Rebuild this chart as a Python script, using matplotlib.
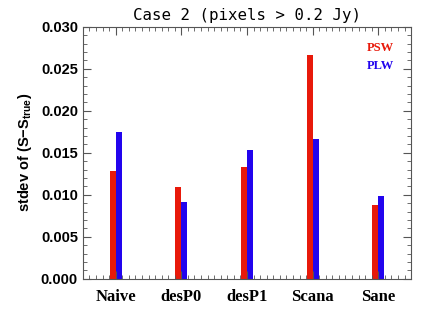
import numpy as np
import matplotlib
matplotlib.use('Agg')
import matplotlib.pyplot as plt
from matplotlib.ticker import MultipleLocator

# 数据
methods = ['Naive', 'desP0', 'desP1', 'Scana', 'Sane']
psw = [0.0128, 0.0109, 0.0133, 0.0267, 0.0088]
plw = [0.0175, 0.0092, 0.0153, 0.0167, 0.0099]

red = '#e8190a'
blue = '#2204ee'

plt.rcParams['mathtext.fontset'] = 'custom'
plt.rcParams['mathtext.rm'] = 'Liberation Sans:bold'
plt.rcParams['mathtext.bf'] = 'Liberation Sans:bold'

fig = plt.figure(figsize=(4.36, 3.32), dpi=100)
ax = fig.add_axes([0.190, 0.160, 0.753, 0.759])

x = np.arange(len(methods))
w = 0.09
ax.bar(x - w / 2, psw, width=w, color=red)
ax.bar(x + w / 2, plw, width=w, color=blue)

ax.set_xlim(-0.5, len(methods) - 0.5)
ax.set_ylim(0, 0.030)

# 刻度
ax.set_xticks(x)
ax.set_xticklabels(methods, fontfamily='Liberation Serif', fontweight='bold', fontsize=12)
ax.xaxis.set_minor_locator(MultipleLocator(0.1))
ax.yaxis.set_major_locator(MultipleLocator(0.005))
ax.yaxis.set_minor_locator(MultipleLocator(0.001))
ax.yaxis.set_major_formatter(matplotlib.ticker.FormatStrFormatter('%.3f'))
for lab in ax.get_yticklabels():
    lab.set_fontfamily('Liberation Sans')
    lab.set_fontweight('bold')
    lab.set_fontsize(10.5)

ax.tick_params(which='both', direction='in', top=True, right=True, color='#555555')
ax.tick_params(which='major', length=6, width=0.8)
ax.tick_params(axis='x', which='major', pad=7)
ax.tick_params(which='minor', length=3, width=0.6)
for s in ax.spines.values():
    s.set_color('#555555')
    s.set_linewidth(0.8)

ax.set_ylabel(r'stdev of (S$-$S$_{\mathbf{true}}$)', fontfamily='Liberation Sans',
              fontweight='bold', fontsize=10.5, labelpad=5)
ax.set_title('Case 2 (pixels > 0.2 Jy)', fontfamily='DejaVu Sans Mono', fontsize=11.3, pad=5)

ax.text(0.905, 0.917, 'PSW', color=red, transform=ax.transAxes, ha='center', va='center',
        fontfamily='Liberation Serif', fontweight='bold', fontsize=9)
ax.text(0.905, 0.845, 'PLW', color=blue, transform=ax.transAxes, ha='center', va='center',
        fontfamily='Liberation Serif', fontweight='bold', fontsize=9)

fig.savefig('out.png', dpi=100)
